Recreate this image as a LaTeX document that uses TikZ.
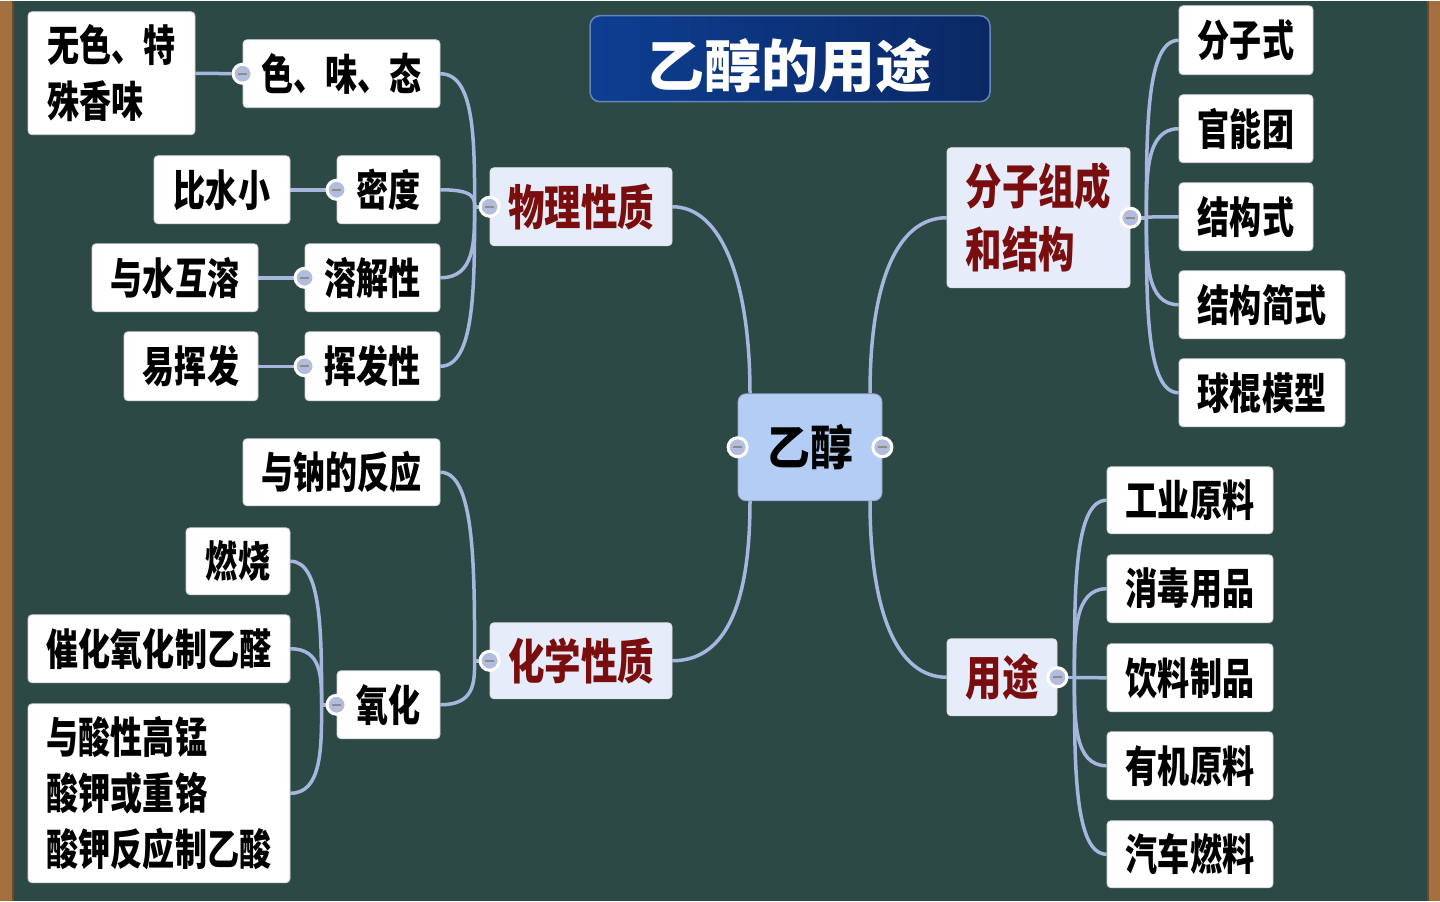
\documentclass[tikz,border=0pt]{standalone}
\usepackage{fontspec}
\newfontfamily\cjk{Noto Sans CJK SC}[FakeStretch=0.745]
\newfontfamily\cjkn{Noto Sans CJK SC}[FakeStretch=0.76]
\newfontfamily\cjkm{Noto Sans CJK SC}[FakeStretch=0.89]
\newfontfamily\cjkw{Noto Sans CJK SC}
\usetikzlibrary{calc}
\definecolor{board}{RGB}{45,73,69}
\definecolor{wood}{RGB}{164,112,64}
\definecolor{woodd}{RGB}{110,72,40}
\definecolor{linkc}{RGB}{166,182,222}
\definecolor{mainfill}{RGB}{230,236,249}
\definecolor{rootfill}{RGB}{180,205,245}
\definecolor{darkred}{RGB}{122,14,14}
\definecolor{foldc}{RGB}{178,188,220}
\definecolor{titlel}{RGB}{14,62,146}
\definecolor{titler}{RGB}{10,40,100}
\definecolor{titleb}{RGB}{100,134,190}
\pgfdeclarelayer{back}
\pgfdeclarelayer{lines}
\pgfsetlayers{back,lines,main}
\tikzset{box/.style={draw=black!18,line width=0.8pt,fill=white,rounded corners=4pt,align=left,inner sep=0pt,
    font=\cjk\bfseries\fontsize{43}{56}\selectfont},
  mainbox/.style={box,fill=mainfill,draw=black!12,text=darkred,font=\cjkn\bfseries\fontsize{48}{63}\selectfont},
  rootbox/.style={box,fill=rootfill,draw=blue!30!gray!60,rounded corners=8pt,font=\cjkm\bfseries\fontsize{48}{60}\selectfont},
  fold/.style={circle,draw=white,line width=3pt,fill=foldc,minimum size=19pt,inner sep=0pt,
    path picture={\draw[black!45,line width=2.4pt] ([xshift=-4.5pt]path picture bounding box.center) -- ([xshift=4.5pt]path picture bounding box.center);}},
  link/.style={linkc,line width=3.5pt}}

\begin{document}
\begin{tikzpicture}[x=1pt,y=-1pt]
\begin{pgfonlayer}{back}
\fill[board] (0,0) rectangle (1440,900);
\fill[wood] (0,0) rectangle (14,900);
\draw[woodd,line width=1.5pt] (13,0) -- (13,900);
\fill[wood] (1427,0) rectangle (1440,900);
\draw[woodd,line width=1.5pt] (1428,0) -- (1428,900);
\end{pgfonlayer}
\useasboundingbox (0,0) rectangle (1440,900);

% title
\node[rounded corners=10pt,left color=titlel,right color=titler,draw=titleb,line width=1.5pt,
  minimum width=400pt,minimum height=86pt,text height=64pt,text depth=7pt,text=white,
  font=\cjkw\bfseries\fontsize{57}{60}\selectfont] (title) at (790,58) {乙醇的用途};

% centre and main branches
\node[rootbox,minimum width=144pt,minimum height=107pt] (eth) at (810,446.5) {乙醇};
\node[mainbox,minimum width=182pt,minimum height=78pt] (phys) at (581,206) {物理性质};
\node[mainbox,minimum width=182pt,minimum height=76pt] (chem) at (581,660) {化学性质};
\node[mainbox,minimum width=183pt,minimum height=140pt] (struct) at (1038.5,217) {分子组成\\和结构};
\node[mainbox,minimum width=110pt,minimum height=77pt] (use) at (1002,676.5) {用途};

% physical properties
\node[box,minimum width=197pt,minimum height=68pt] (color) at (341.5,73) {色、味、态};
\node[box,minimum width=103pt,minimum height=68pt] (dens) at (388.5,189) {密度};
\node[box,minimum width=135pt,minimum height=68pt] (solu) at (372.5,277) {溶解性};
\node[box,minimum width=135pt,minimum height=69pt] (vola) at (372.5,365.5) {挥发性};
\node[box,minimum width=167pt,minimum height=123pt] (colorleaf) at (111.5,72.5) {无色、特\\殊香味};
\node[box,minimum width=136pt,minimum height=68pt] (densleaf) at (222,189) {比水小};
\node[box,minimum width=166pt,minimum height=68pt] (soluleaf) at (175,277) {与水互溶};
\node[box,minimum width=134pt,minimum height=69pt] (volaleaf) at (191,365.5) {易挥发};

% chemical properties
\node[box,minimum width=197pt,minimum height=67pt] (sodium) at (341.5,471.5) {与钠的反应};
\node[box,minimum width=103pt,minimum height=68pt] (oxid) at (388.5,704) {氧化};
\node[box,minimum width=104pt,minimum height=67pt] (burn) at (238,560.5) {燃烧};
\node[box,minimum width=262pt,minimum height=68pt] (cat) at (159,648) {催化氧化制乙醛};
\node[box,minimum width=262pt,minimum height=179pt] (acid) at (159,792.5) {与酸性高锰\\酸钾或重铬\\酸钾反应制乙酸};

% structure
\node[box,minimum width=134pt,minimum height=69pt] (formula) at (1246,39.5) {分子式};
\node[box,minimum width=134pt,minimum height=68pt] (func) at (1246,128) {官能团};
\node[box,minimum width=134pt,minimum height=68pt] (sform) at (1246,216) {结构式};
\node[box,minimum width=166pt,minimum height=68pt] (short) at (1262,304) {结构简式};
\node[box,minimum width=166pt,minimum height=68pt] (model) at (1262,392) {球棍模型};

% uses
\node[box,minimum width=166pt,minimum height=67pt] (ind) at (1190,499.5) {工业原料};
\node[box,minimum width=166pt,minimum height=68pt] (dis) at (1190,588) {消毒用品};
\node[box,minimum width=166pt,minimum height=68pt] (drink) at (1190,677) {饮料制品};
\node[box,minimum width=166pt,minimum height=68pt] (org) at (1190,765) {有机原料};
\node[box,minimum width=166pt,minimum height=67pt] (fuel) at (1190,853.5) {汽车燃料};

% fold buttons
\node[fold] (fethl) at (eth.west) {};
\node[fold] (fethr) at (eth.east) {};
\node[fold] (fphys) at (phys.west) {};
\node[fold] (fchem) at (chem.west) {};
\node[fold] (fstruct) at (struct.east) {};
\node[fold] (fuse) at (use.east) {};
\node[fold] (fcolor) at (color.west) {};
\node[fold] (fdens) at (dens.west) {};
\node[fold] (fsolu) at (solu.west) {};
\node[fold] (fvola) at (vola.west) {};
\node[fold] (foxid) at (oxid.west) {};

\coordinate (jp) at ($(fphys)+(-15,0)$);
\coordinate (jc) at ($(fchem)+(-15,0)$);
\coordinate (jo) at ($(foxid)+(-15,0)$);
\coordinate (js) at ($(fstruct)+(16,0)$);
\coordinate (ju) at ($(fuse)+(17,0)$);

\begin{pgfonlayer}{lines}
\draw[link] ([xshift=-60pt]eth.north) .. controls +(0,-110) and +(50,0) .. (phys.east);
\draw[link] ([xshift=60pt]eth.north) .. controls +(0,-110) and +(-50,0) .. (struct.west);
\draw[link] ([xshift=-60pt]eth.south) .. controls +(0,110) and +(50,0) .. (chem.east);
\draw[link] ([xshift=60pt]eth.south) .. controls +(0,110) and +(-50,0) .. (use.west);
% branches
\draw[link] (fphys) -- (jp);
\draw[link] (fchem) -- (jc);
\draw[link] (foxid) -- (jo);
\draw[link] (fstruct) -- (js);
\draw[link] (fuse) -- (ju);
\foreach \n in {color,dens,solu,vola}
  \draw[link] (jp) .. controls ($(jp)!0.5!(jp |- \n.east)$) and (jp |- \n.east) .. (\n.east);
\foreach \n in {sodium,oxid}
  \draw[link] (jc) .. controls ($(jc)!0.5!(jc |- \n.east)$) and (jc |- \n.east) .. (\n.east);
\foreach \n in {burn,cat,acid}
  \draw[link] (jo) .. controls ($(jo)!0.5!(jo |- \n.east)$) and (jo |- \n.east) .. (\n.east);
\foreach \n in {formula,func,sform,short,model}
  \draw[link] (js) .. controls ($(js)!0.5!(js |- \n.west)$) and (js |- \n.west) .. (\n.west);
\foreach \n in {ind,dis,drink,org,fuel}
  \draw[link] (ju) .. controls ($(ju)!0.5!(ju |- \n.west)$) and (ju |- \n.west) .. (\n.west);
% leaves
\draw[link] (colorleaf.east) -- (fcolor);
\draw[link] (densleaf.east) -- (fdens);
\draw[link] (soluleaf.east) -- (fsolu);
\draw[link] (volaleaf.east) -- (fvola);
\end{pgfonlayer}
\end{tikzpicture}
\end{document}
